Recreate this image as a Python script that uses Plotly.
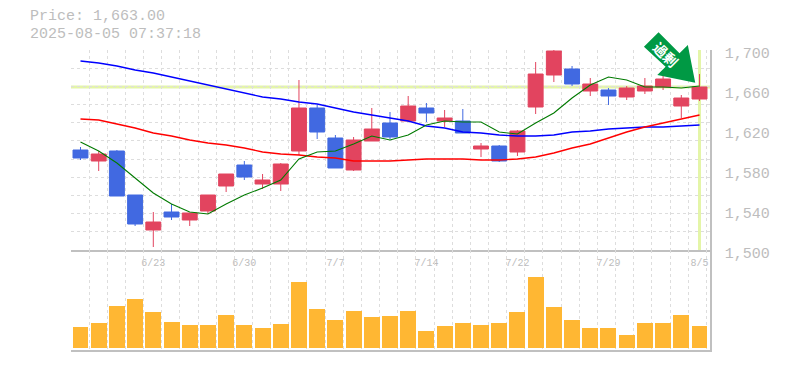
import plotly.graph_objects as go

# --- data ---
opens  = [1600,1589,1599,1555,1520,1538,1530,1539,1564,1585,1566,1566,1599,1642,1612,1580,1609,1627,1629,1642,1629,1629,1601,1604,1598,1643,1675,1681,1659,1660,1653,1659,1663,1644,1651]
highs  = [1603,1599,1600,1555,1538,1546,1537,1555,1576,1589,1576,1587,1670,1645,1615,1613,1642,1638,1654,1647,1640,1641,1607,1605,1620,1688,1700,1684,1672,1662,1664,1672,1675,1655,1676]
lows   = [1590,1579,1554,1524,1503,1530,1524,1536,1558,1570,1561,1559,1595,1611,1582,1579,1609,1611,1628,1628,1623,1617,1593,1588,1594,1636,1668,1664,1654,1645,1650,1656,1660,1632,1649]
closes = [1592,1596,1554,1526,1528,1533,1537,1555,1576,1573,1570,1586,1642,1618,1582,1610,1621,1613,1644,1637,1632,1617,1604,1589,1619,1676,1699,1666,1666,1654,1662,1664,1671,1652,1663]
ma_short = [1608,1599,1587,1572,1557,1546,1538,1536,1546,1555,1562,1570,1591,1598,1599,1606,1614,1610,1615,1625,1629,1628,1628,1618,1616,1627,1637,1652,1665,1673,1670,1663,1663,1662,1664]
ma_mid   = [1631,1630,1626,1622,1617,1614,1610,1607,1605,1602,1598,1596,1595,1593,1592,1589,1589,1589,1590,1591,1591,1591,1590,1590,1591,1593,1597,1602,1606,1612,1618,1623,1627,1631,1635]
ma_long  = [1689,1687,1684,1680,1677,1673,1669,1665,1661,1657,1653,1651,1648,1646,1642,1638,1635,1632,1629,1624,1622,1618,1617,1615,1614,1614,1615,1618,1619,1621,1622,1623,1623,1624,1625]
volumes  = [210,250,420,490,360,260,230,230,330,230,200,240,660,390,280,370,310,320,370,170,220,250,230,250,360,710,410,280,200,200,130,250,250,330,220]
date_idx = [4,9,14,19,24,29,34]
date_labels = ["6/23","6/30","7/7","7/14","7/22","7/29","8/5"]
price_ticks = [1500,1540,1580,1620,1660,1700]
last_price = 1663
header = ["Price: 1,663.00","2025-08-05 07:37:18"]
badge = "過剰"

x = list(range(len(closes)))
L, R, T, B = 70.5, 710.5, 50, 350
W, H = 785, 370
XR = [(L-80)/18.235, (R-80)/18.235]
def px(p): return (p-L)/(R-L)
def py(p): return (B-p)/(B-T)

UP, DOWN = "#e2445f", "#4169e1"
GRID, AXIS, TXT = "#dddddd", "#c0c0c0", "#bdbdbd"
HL = "#e4f5a8"
xgrid = [XR[0]+i*(200/11)/18.235 for i in range(36)]
ygrid = [1500+i*200/11 for i in range(12)]
mono = "Liberation Mono, monospace"

fig = go.Figure()
fig.add_trace(go.Candlestick(x=x, open=opens, high=highs, low=lows, close=closes, whiskerwidth=0,
    increasing=dict(line=dict(color=UP,width=1),fillcolor=UP),
    decreasing=dict(line=dict(color=DOWN,width=1),fillcolor=DOWN), xaxis="x", yaxis="y", showlegend=False))
for s,c,w in [(ma_long,"#0000ff",1.4),(ma_mid,"#ff0000",1.4),(ma_short,"#007a00",1.1)]:
    fig.add_trace(go.Scatter(x=x,y=s,mode="lines",line=dict(color=c,width=w),xaxis="x",yaxis="y",showlegend=False))
fig.add_trace(go.Bar(x=x,y=volumes,marker=dict(color="#ffb733",line=dict(width=0)),width=16/18.235,xaxis="x2",yaxis="y2",showlegend=False))

shapes = [
    dict(type="line",xref="paper",x0=0,x1=1,yref="y",y0=last_price,y1=last_price,line=dict(color=HL,width=3),layer="below"),
    dict(type="line",xref="x",x0=x[-1],x1=x[-1],yref="y",y0=1500,y1=1700,line=dict(color=HL,width=3),layer="below"),
]
arrow = [(644.3,46.7),(659,32.3),(680,53.3),(688.3,45),(695.7,82.7),(657.7,75),(666,66.7)]
path = "M"+" L".join(f"{px(a):.4f},{py(b):.4f}" for a,b in arrow)+" Z"
shapes.append(dict(type="path",xref="paper",yref="paper",path=path,fillcolor="#009944",line=dict(width=0),layer="above"))

ann = [dict(xref="paper",yref="paper",x=px(28),y=py(yy),text=t,showarrow=False,xanchor="left",yanchor="middle",
            borderpad=0,font=dict(family=mono,size=15,color=TXT)) for t,yy in zip(header,[17,34.5])]
ann.append(dict(xref="paper",yref="paper",x=px(666),y=py(54),text=badge,showarrow=False,textangle=45,xanchor="center",yanchor="middle",
                font=dict(family="Noto Sans CJK JP",size=14,weight=700,color="#ffffff")))

fig.update_layout(width=W,height=H,margin=dict(l=L,r=W-R,t=T,b=H-B,autoexpand=False),paper_bgcolor="white",plot_bgcolor="white",
    boxgap=0.18,boxgroupgap=0,bargap=0,shapes=shapes,annotations=ann,hovermode=False,
    xaxis=dict(domain=[0,1],range=XR,anchor="y",rangeslider=dict(visible=False),tickmode="array",tickvals=date_idx,ticktext=date_labels,
        showgrid=False,zeroline=False,ticks="",ticklen=0,tickangle=0,ticklabelstandoff=2,tickfont=dict(family=mono,size=10,color=TXT),
        showline=True,linecolor=AXIS,linewidth=1.5,
        minor=dict(tickmode="array",tickvals=xgrid,showgrid=True,gridcolor=GRID,griddash="3px,3px",gridwidth=1,ticks="")),
    yaxis=dict(domain=[100/300,1],range=[1500,1700],side="right",anchor="x",tickmode="array",tickvals=price_ticks,
        ticktext=[f"{v:,}" for v in price_ticks],ticks="",showgrid=False,zeroline=False,ticklabelshift=3,ticklabelstandoff=10,
        tickfont=dict(family=mono,size=15,color=TXT),showline=True,linecolor=AXIS,linewidth=1.5,
        minor=dict(tickmode="array",tickvals=ygrid,showgrid=True,gridcolor=GRID,griddash="3px,3px",gridwidth=1,ticks="")),
    xaxis2=dict(domain=[0,1],range=XR,anchor="y2",showticklabels=False,ticks="",showgrid=False,zeroline=False,
        showline=True,linecolor=AXIS,linewidth=1.5,
        minor=dict(tickmode="array",tickvals=xgrid,showgrid=True,gridcolor=GRID,griddash="3px,3px",gridwidth=1,ticks="")),
    yaxis2=dict(domain=[0,100/300],range=[-20,980],side="right",anchor="x2",showticklabels=False,ticks="",showgrid=False,zeroline=False,
        showline=True,linecolor=AXIS,linewidth=1.5),
)
fig.write_html("out.html",post_script="document.body.style.margin='0';",config=dict(displayModeBar=False))
